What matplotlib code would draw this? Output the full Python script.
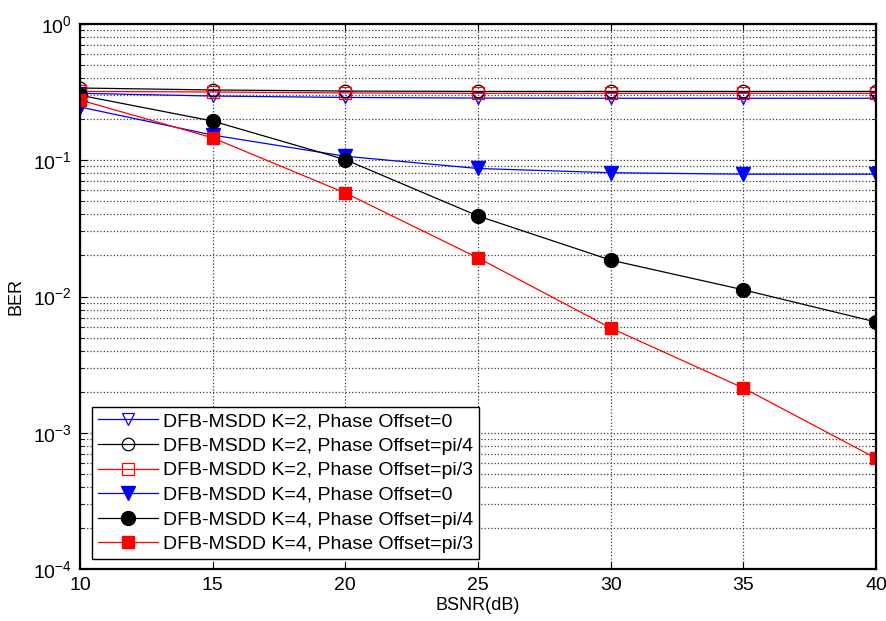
import numpy as np
import matplotlib
matplotlib.use("Agg")
import matplotlib.pyplot as plt
from matplotlib.ticker import LogLocator, NullFormatter, FixedLocator

plt.rcParams['font.family'] = ['Liberation Sans', 'DejaVu Sans']

bsnr = [10, 15, 20, 25, 30, 35, 40]

ber_k2_off0 = [0.310, 0.296, 0.289, 0.286, 0.285, 0.285, 0.285]
ber_k2_pi4 = [0.339, 0.328, 0.322, 0.320, 0.320, 0.320, 0.320]
ber_k2_pi3 = [0.320, 0.317, 0.312, 0.310, 0.310, 0.310, 0.310]
ber_k4_off0 = [0.246, 0.153, 0.107, 0.087, 0.081, 0.079, 0.079]
ber_k4_pi4 = [0.300, 0.194, 0.101, 0.039, 0.0185, 0.0112, 0.0065]
ber_k4_pi3 = [0.277, 0.146, 0.0575, 0.0192, 0.00587, 0.00213, 0.00065]

labels = [
    "DFB-MSDD K=2, Phase Offset=0",
    "DFB-MSDD K=2, Phase Offset=pi/4",
    "DFB-MSDD K=2, Phase Offset=pi/3",
    "DFB-MSDD K=4, Phase Offset=0",
    "DFB-MSDD K=4, Phase Offset=pi/4",
    "DFB-MSDD K=4, Phase Offset=pi/3",
]

fig = plt.figure(figsize=(8.87, 6.21), dpi=100)
ax = fig.add_axes([80 / 887, 1 - 569 / 621, 796 / 887, 545 / 621])

lw = 0.9
ax.semilogy(bsnr, ber_k2_off0, color='blue', lw=lw, marker='v', ms=9,
            mfc='none', mec='blue', mew=0.9, label=labels[0])
ax.semilogy(bsnr, ber_k2_pi4, color='black', lw=lw, marker='o', ms=9,
            mfc='none', mec='black', mew=0.9, label=labels[1])
ax.semilogy(bsnr, ber_k2_pi3, color='red', lw=lw, marker='s', ms=8,
            mfc='none', mec='red', mew=0.9, label=labels[2])
ax.semilogy(bsnr, ber_k4_off0, color='blue', lw=lw, marker='v', ms=10,
            mfc='blue', mec='blue', label=labels[3])
ax.semilogy(bsnr, ber_k4_pi4, color='black', lw=lw, marker='o', ms=10,
            mfc='black', mec='black', label=labels[4])
ax.semilogy(bsnr, ber_k4_pi3, color='red', lw=lw, marker='s', ms=8.5,
            mfc='red', mec='red', label=labels[5])

ax.set_xlim(10, 40)
ax.set_ylim(1e-4, 1e0)
ax.xaxis.set_major_locator(FixedLocator(bsnr))
ax.yaxis.set_major_locator(LogLocator(base=10, numticks=10))
ax.yaxis.set_minor_locator(LogLocator(base=10, subs=np.arange(2, 10), numticks=20))
ax.yaxis.set_minor_formatter(NullFormatter())

ax.grid(True, which='major', linestyle=':', color='0.25', lw=0.9)
ax.grid(True, which='minor', axis='y', linestyle=':', color='0.25', lw=0.9)

ax.tick_params(which='both', direction='in', top=True, right=True,
               labelsize=14, pad=6)
ax.tick_params(which='major', length=5, width=0.8)
ax.tick_params(which='minor', length=3, width=0.6)
for s in ax.spines.values():
    s.set_linewidth(1.6)

ax.set_xlabel("BSNR(dB)", fontsize=13, labelpad=2)
ax.set_ylabel("BER", fontsize=13, labelpad=6)

leg = ax.legend(loc='lower left', bbox_to_anchor=(12 / 796, 10 / 545),
                fontsize=14, frameon=True, fancybox=False, edgecolor='black',
                framealpha=1, handlelength=3.1, handletextpad=0.25,
                borderpad=0.3, labelspacing=0.36, borderaxespad=0)
leg.get_frame().set_linewidth(1.0)

fig.savefig("out.png", dpi=100)
